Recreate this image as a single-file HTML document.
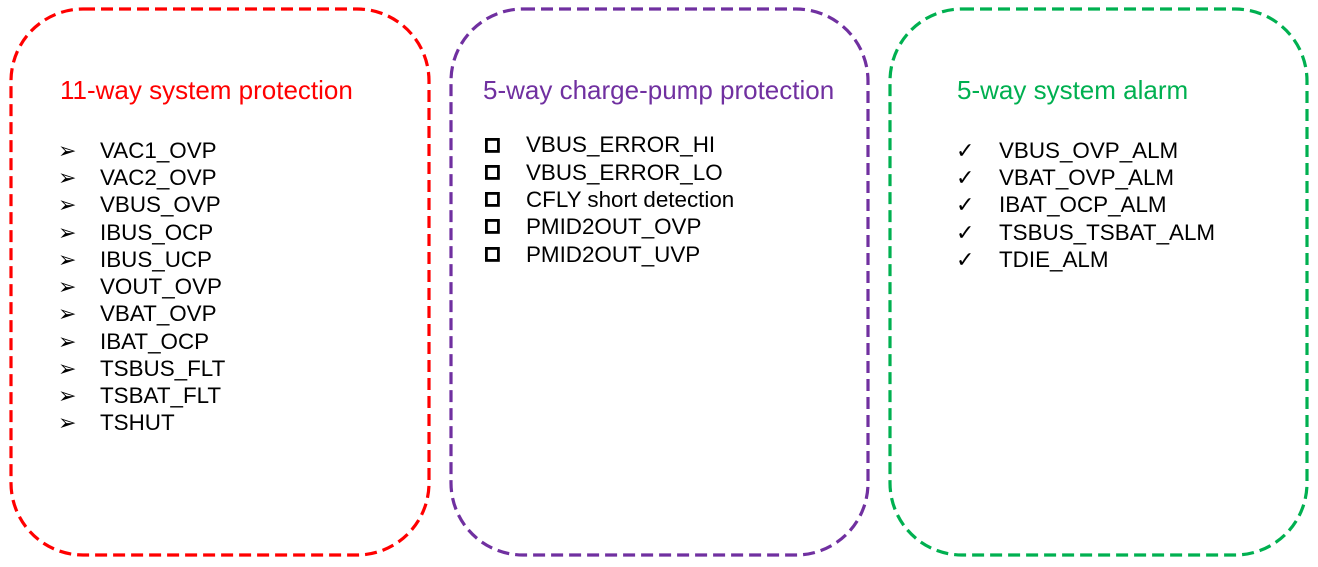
<!DOCTYPE html>
<html><head><meta charset="utf-8"><style>
html,body{margin:0;padding:0;background:#fff;}
svg{display:block;}
text{font-family:"Liberation Sans",Arial,sans-serif;}
</style></head><body>
<svg width="1318" height="567" viewBox="0 0 1318 567" xmlns="http://www.w3.org/2000/svg">
<g fill="none" stroke-width="3.2" stroke-dasharray="12 6">
<rect x="11" y="9" width="418" height="546" rx="72" stroke="#ff0000"/>
<rect x="451" y="9" width="417" height="546" rx="72" stroke="#7030a0"/>
<rect x="890" y="9" width="417" height="546" rx="72" stroke="#00b050"/>
</g>
<text x="60" y="99" font-size="26" fill="#ff0000">11-way system protection</text>
<text x="483" y="99" font-size="26" fill="#7030a0">5-way charge-pump protection</text>
<text x="957" y="99" font-size="26" fill="#00b050">5-way system alarm</text>
<g font-size="22.4" fill="#000">
<text x="100" y="158">VAC1_OVP</text>
<text x="100" y="185">VAC2_OVP</text>
<text x="100" y="212">VBUS_OVP</text>
<text x="100" y="240">IBUS_OCP</text>
<text x="100" y="267">IBUS_UCP</text>
<text x="100" y="294">VOUT_OVP</text>
<text x="100" y="321">VBAT_OVP</text>
<text x="100" y="349">IBAT_OCP</text>
<text x="100" y="376">TSBUS_FLT</text>
<text x="100" y="403">TSBAT_FLT</text>
<text x="100" y="430">TSHUT</text>
<text x="526" y="152">VBUS_ERROR_HI</text>
<text x="526" y="180">VBUS_ERROR_LO</text>
<text x="526" y="207">CFLY short detection</text>
<text x="526" y="234">PMID2OUT_OVP</text>
<text x="526" y="262">PMID2OUT_UVP</text>
<text x="999" y="158">VBUS_OVP_ALM</text>
<text x="999" y="185">VBAT_OVP_ALM</text>
<text x="999" y="212">IBAT_OCP_ALM</text>
<text x="999" y="240">TSBUS_TSBAT_ALM</text>
<text x="999" y="267">TDIE_ALM</text>
</g>
<g font-size="22" fill="#000">
<text x="58" y="158">➢</text><text x="58" y="185">➢</text><text x="58" y="212">➢</text>
<text x="58" y="240">➢</text><text x="58" y="267">➢</text><text x="58" y="294">➢</text>
<text x="58" y="321">➢</text><text x="58" y="349">➢</text><text x="58" y="376">➢</text>
<text x="58" y="403">➢</text><text x="58" y="430">➢</text>
<text x="956" y="158">✓</text><text x="956" y="185">✓</text><text x="956" y="212">✓</text>
<text x="956" y="240">✓</text><text x="956" y="267">✓</text>
</g>
<g fill="none" stroke="#000" stroke-width="2.8">
<rect x="486.4" y="139.4" width="12" height="12"/>
<rect x="486.4" y="166.4" width="12" height="12"/>
<rect x="486.4" y="193.4" width="12" height="12"/>
<rect x="486.4" y="220.4" width="12" height="12"/>
<rect x="486.4" y="248.4" width="12" height="12"/>
</g>
</svg>
</body></html>
